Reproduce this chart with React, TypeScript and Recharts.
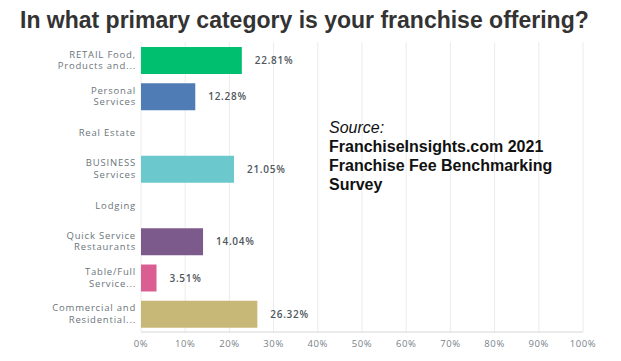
import React from "react";
import {
  BarChart,
  Bar,
  XAxis,
  YAxis,
  CartesianGrid,
  Cell,
  LabelList
} from "recharts";

const categories = [
  "RETAIL Food,\nProducts and...",
  "Personal\nServices",
  "Real Estate",
  "BUSINESS\nServices",
  "Lodging",
  "Quick Service\nRestaurants",
  "Table/Full\nService...",
  "Commercial and\nResidential..."
];

const shares = [22.81, 12.28, 0, 21.05, 0, 14.04, 3.51, 26.32];

const barColors = [
  "#00bf6f",
  "#507cb6",
  "#6bc8cd",
  "#6bc8cd",
  "#f9be00",
  "#7d5a8c",
  "#db5e92",
  "#c8b878"
];

const xTicks = [0, 10, 20, 30, 40, 50, 60, 70, 80, 90, 100];

const title = "In what primary category is your franchise offering?";
const sourceLines = [
  "FranchiseInsights.com 2021",
  "Franchise Fee Benchmarking",
  "Survey"
];

const data = categories.map((name, i) => ({ name, value: shares[i] }));

const labelFont = "'Open Sans', 'DejaVu Sans', sans-serif";

const CategoryTick = (props: any) => {
  const { x, y, payload } = props;
  const lines: string[] = String(payload.value).split("\n");
  const start = lines.length === 1 ? 3.5 : -2.5;
  return (
    <text
      x={x}
      y={y}
      textAnchor="end"
      fill="#6b757b"
      fontSize={9.5}
      fontFamily={labelFont}
      letterSpacing={0.8}
    >
      {lines.map((line, i) => (
        <tspan key={i} x={x} y={y + start + i * 11.5}>
          {line}
        </tspan>
      ))}
    </text>
  );
};

const ValueLabel = (props: any) => {
  const { x, y, width, height, value } = props;
  if (!value) return null;
  return (
    <text
      x={x + width + 13}
      y={y + height / 2 + 3.5}
      fill="#4f575d"
      fontSize={10}
      fontWeight={600}
      fontFamily={labelFont}
      letterSpacing={0.7}
    >
      {value.toFixed(2)}%
    </text>
  );
};

export default function App() {
  return (
    <div
      style={{
        position: "absolute",
        left: 0,
        top: 0,
        width: 621,
        height: 361,
        background: "#fff"
      }}
    >
      <BarChart
        width={621}
        height={361}
        data={data}
        layout="vertical"
        margin={{ top: 42, right: 38, bottom: 0, left: 0 }}
      >
        <CartesianGrid horizontal={false} stroke="#ececec" />
        <XAxis
          type="number"
          domain={[0, 100]}
          ticks={xTicks}
          tickFormatter={(v) => `${v}%`}
          height={29}
          tickLine={false}
          axisLine={{ stroke: "#d6d6d6" }}
          tick={{
            fill: "#7a8388",
            fontSize: 9.5,
            fontFamily: labelFont,
            letterSpacing: 0.6
          }}
        />
        <YAxis
          type="category"
          dataKey="name"
          width={141}
          interval={0}
          tickSize={0}
          tickMargin={5}
          axisLine={false}
          tickLine={false}
          tick={<CategoryTick />}
        />
        <Bar dataKey="value" barSize={27} isAnimationActive={false}>
          {data.map((d, i) => (
            <Cell key={d.name} fill={barColors[i]} />
          ))}
          <LabelList dataKey="value" content={<ValueLabel />} />
        </Bar>
      </BarChart>
      <svg
        width={621}
        height={361}
        style={{ position: "absolute", left: 0, top: 0, pointerEvents: "none" }}
      >
        <text
          x={20}
          y={28}
          fontSize={23}
          fontWeight={700}
          fill="#333"
          fontFamily="'Liberation Sans', Arial, sans-serif"
        >
          {title}
        </text>
        <text
          x={329}
          y={133}
          fontSize={16}
          fontStyle="italic"
          fill="#111"
          fontFamily="'Liberation Sans', Arial, sans-serif"
        >
          Source:
        </text>
        {sourceLines.map((line, i) => (
          <text
            key={line}
            x={329}
            y={152 + i * 19}
            fontSize={16}
            fontWeight={700}
            fill="#111"
            fontFamily="'Liberation Sans', Arial, sans-serif"
          >
            {line}
          </text>
        ))}
      </svg>
    </div>
  );
}
